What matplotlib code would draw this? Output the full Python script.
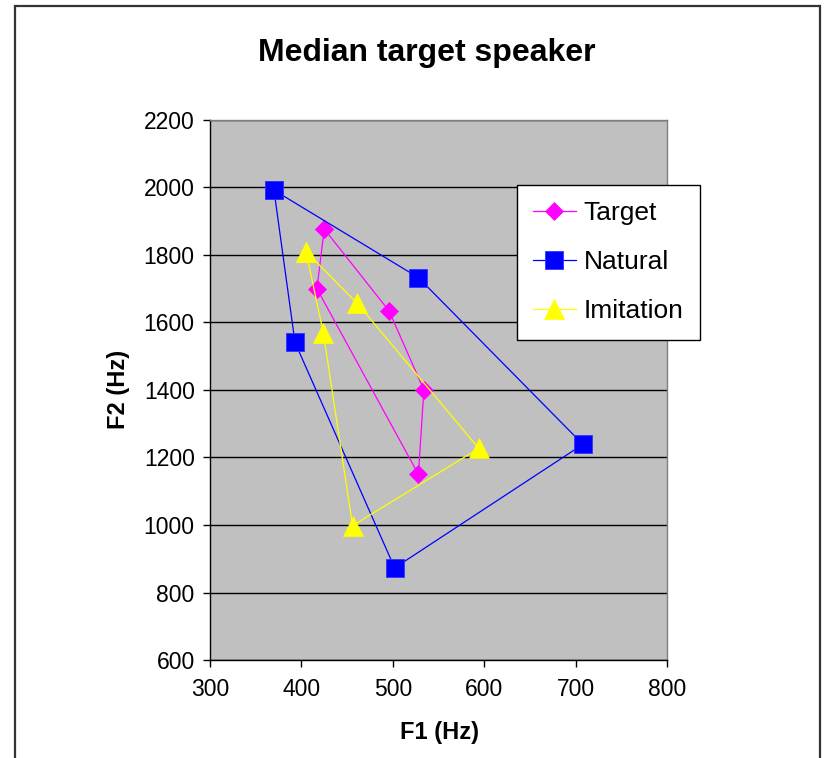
import matplotlib
matplotlib.use("Agg")
import matplotlib.pyplot as plt
from matplotlib.patches import Rectangle

plt.rcParams['font.family'] = ['Liberation Sans', 'DejaVu Sans']

# formant values (F1, F2) per vowel, polygon closed back to the first point
target_f1 = [425, 417, 528, 534, 496, 425]
target_f2 = [1877, 1700, 1150, 1400, 1634, 1877]

natural_f1 = [370, 528, 708, 502, 393, 370]
natural_f2 = [1992, 1733, 1239, 873, 1541, 1992]

imitation_f1 = [405, 461, 594, 456, 424, 405]
imitation_f2 = [1810, 1657, 1227, 998, 1570, 1810]

x_ticks = [300, 400, 500, 600, 700, 800]
y_ticks = [600, 800, 1000, 1200, 1400, 1600, 1800, 2000, 2200]

W, H = 824, 758
fig = plt.figure(figsize=(W / 100, H / 100), dpi=100)
fig.patch.set_facecolor('white')

# chart-area frame
fig.patches.append(Rectangle((15 / W, -0.01), (820 - 15) / W, 1.01 - 6 / H,
                             transform=fig.transFigure, fill=False,
                             edgecolor='#333333', linewidth=1.6))

ax = fig.add_axes([210 / W, 1 - 660 / H, (667 - 210) / W, (660 - 120) / H])
ax.set_facecolor('#c0c0c0')

ax.plot(target_f1, target_f2, color='#ff00ff', lw=0.9, marker='D', ms=9.5,
        mec='#ff00ff', mew=0.5, label='Target', zorder=3)
ax.plot(natural_f1, natural_f2, color='#0000ff', lw=0.9, marker='s', ms=13.5,
        mec='#3333ff', mew=0.6, label='Natural', zorder=3)
ax.plot(imitation_f1, imitation_f2, color='#ffff00', lw=0.9, marker='^', ms=14,
        mec='#ffff00', mew=0.5, label='Imitation', zorder=3)

ax.set_xlim(300, 800)
ax.set_ylim(600, 2200)
ax.set_xticks(x_ticks)
ax.set_yticks(y_ticks)
ax.yaxis.grid(True, color='black', lw=1.0)
ax.set_axisbelow(True)
ax.tick_params(labelsize=16.5, length=5, width=1, direction='out')
ax.tick_params(axis='x', pad=8)
ax.tick_params(axis='y', pad=6)

for side in ('top', 'right'):
    ax.spines[side].set_color('#808080')
for side in ('left', 'bottom'):
    ax.spines[side].set_color('black')
for sp in ax.spines.values():
    sp.set_linewidth(1.0)

fig.text(427 / W, 1 - 53 / H, 'Median target speaker', ha='center', va='center',
         fontsize=23, fontweight='bold')
fig.text(439 / W, 1 - 733 / H, 'F1 (Hz)', ha='center', va='center',
         fontsize=17, fontweight='bold')
fig.text(118 / W, 1 - 389 / H, 'F2 (Hz)', ha='center', va='center',
         fontsize=17, fontweight='bold', rotation=90)

leg = ax.legend(loc='upper left', bbox_to_anchor=(517 / W, 1 - 185 / H),
                bbox_transform=fig.transFigure, borderaxespad=0,
                fontsize=19, frameon=True, fancybox=False, handlelength=1.6,
                labelspacing=0.95, borderpad=0.62, handletextpad=0.3)
leg.get_frame().set_edgecolor('black')
leg.get_frame().set_linewidth(1.0)
leg.get_frame().set_alpha(1)

fig.savefig('out.png', dpi=100)
